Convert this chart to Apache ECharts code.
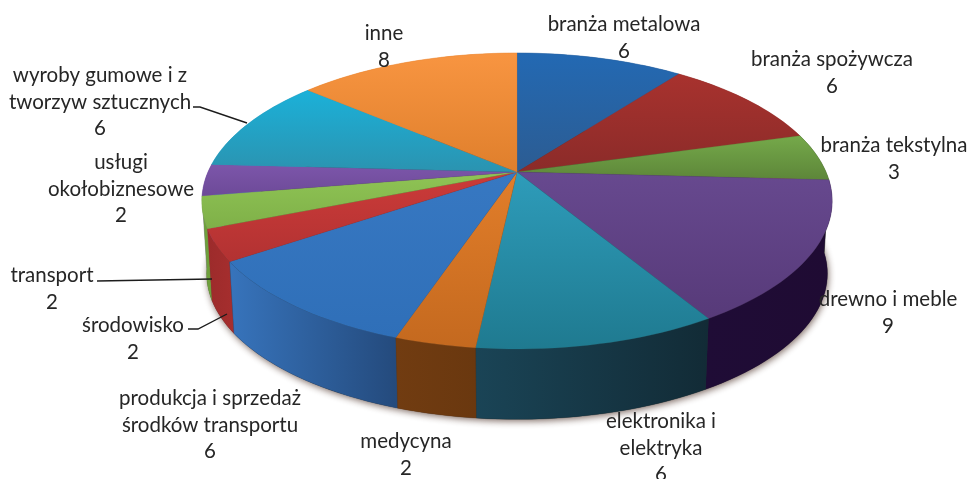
<!DOCTYPE html>
<html><head><meta charset="utf-8">
<style>html,body{margin:0;padding:0;background:#fff}#c{width:968px;height:479px}</style>
<script src="https://cdn.jsdelivr.net/npm/echarts@6/dist/echarts.min.js"></script>
</head><body><div id="c"></div>
<script>
const categories = ['branża metalowa','branża spożywcza','branża tekstylna','drewno i meble','elektronika i\nelektryka','medycyna','produkcja i sprzedaż\nśrodków transportu','środowisko','transport','usługi\nokołobiznesowe','wyroby gumowe i z\ntworzyw sztucznych','inne'];
const values = [6,6,3,9,6,2,6,2,2,2,6,8];

// styling (top gradient, wall gradient)
const topColors = [['#2369b3','#2c5c92'],['#a8322e','#8b2b29'],['#75a94a','#5d8639'],['#67498f','#573a79'],['#2e9cba','#1f7a90'],['#e27e2a','#c4691f'],['#3778c2','#2f6fb8'],['#cc3b39','#b23232'],['#8fc455','#7fb048'],['#7c56aa','#6d4a98'],['#1bb1d9','#2b93b0'],['#f89541','#df7f2c']];
const wallColors = [['#2369b3','#2369b3'],['#a8322e','#a8322e'],['#5d8639','#3d5a25'],['#1f0c36','#1f0b33'],['#1a4456','#122b36'],['#713c11','#6a380f'],['#3774bc','#244a7c'],['#9c2b2b','#a62e2e'],['#6ea03c','#6ea03c'],['#7c56aa','#7c56aa'],['#1bb1d9','#1bb1d9'],['#f89541','#f89541']];
const labelAnchors = [[624,38],[832,73],[894,159],[888,313],[661,448],[406,455],[210,425],[133,339],[52,289],[121,189],[100,102],[384,47]];
const leaders = [[[193,107],[200,107],[247,123]],[[97,281],[212,279]],[[188,329],[198,329],[227,314]]];

const total = values.reduce((a,b)=>a+b,0);
const CX=517, CY=172, A=142.3, B=309, K=0.196, DEPTH=73, SX=0.985, SY=0.985;
function proj(th, low){
  const u=Math.sin(th), v=-Math.cos(th), w=1-K*v;
  const x=B*u/w, y=A*v/w;
  return low ? [CX+x*SX, CY+DEPTH+y*SY] : [CX+x, CY+y];
}
function arc(a0,a1,low){
  const n=Math.max(2,Math.ceil((a1-a0)/0.03)), pts=[];
  for(let i=0;i<=n;i++) pts.push(proj(a0+(a1-a0)*i/n,low));
  return pts;
}
function grad(x2,y2,c){return {type:'linear',x:0,y:0,x2,y2,colorStops:[{offset:0,color:c[0]},{offset:1,color:c[1]}]};}

function renderItem(params, api){
  const i=params.dataIndex;
  let before=0; for(let j=0;j<i;j++) before+=values[j];
  const val=api.value(0);
  const a0=before/total*2*Math.PI, a1=(before+val)/total*2*Math.PI;
  const mid=(a0+a1)/2;
  const children=[];
  if(i===0){
    children.push({type:'polygon',z2:-5,shape:{points:arc(0,2*Math.PI,true)},
      style:{fill:'#333',shadowBlur:7,shadowColor:'rgba(60,30,20,0.65)',shadowOffsetX:1,shadowOffsetY:2}});
    leaders.forEach(l=>children.push({type:'polyline',z2:200,shape:{points:l},style:{stroke:'#1c1c1c',lineWidth:1.4,fill:null}}));
  }
  const top=arc(a0,a1,false), bot=arc(a0,a1,true).reverse();
  children.push({type:'polygon',z2:Math.round(-Math.cos(mid)*50),shape:{points:top.concat(bot)},
    style:{fill:grad(1,0,wallColors[i]),stroke:wallColors[i][1],lineWidth:0.3}});
  children.push({type:'polygon',z2:100,shape:{points:[[CX,CY]].concat(top)},
    style:{fill:grad(0,1,topColors[i]),stroke:topColors[i][1],lineWidth:0.3}});
  children.push({type:'text',z2:300,style:{text:categories[i]+'\n'+val,x:labelAnchors[i][0],y:labelAnchors[i][1],
    align:'center',verticalAlign:'middle',fontFamily:'Lato',fontSize:20.5,lineHeight:26.7,fill:'#262626'}});
  return {type:'group',children};
}
const chart=echarts.init(document.getElementById('c'),null,{renderer:'canvas'});
chart.setOption({animation:false,backgroundColor:'#fff',
  series:[{type:'custom',coordinateSystem:'none',renderItem,data:values.map(v=>[v]),encode:{value:0},silent:true}]});
</script></body></html>
